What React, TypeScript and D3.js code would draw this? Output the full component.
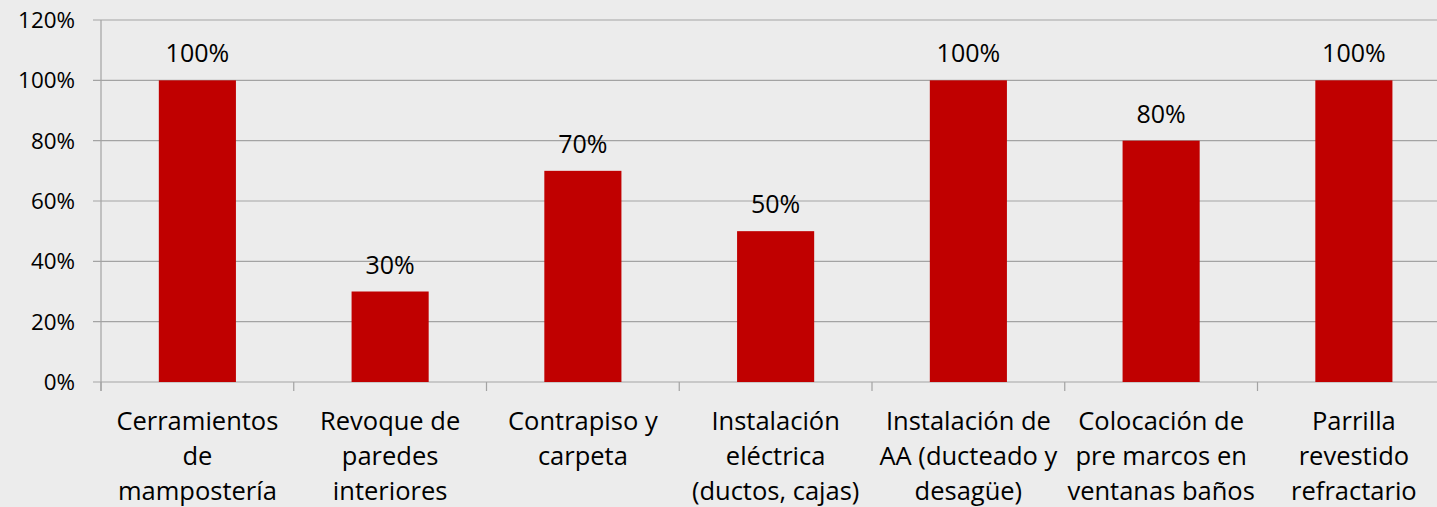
import * as d3 from "d3";

const categories: string[][] = [
  ["Cerramientos", "de", "mampostería"],
  ["Revoque de", "paredes", "interiores"],
  ["Contrapiso y", "carpeta"],
  ["Instalación", "eléctrica", "(ductos, cajas)"],
  ["Instalación de", "AA (ducteado y", "desagüe)"],
  ["Colocación de", "pre marcos en", "ventanas baños"],
  ["Parrilla", "revestido", "refractario"],
];
const values: number[] = [1, 0.3, 0.7, 0.5, 1, 0.8, 1];
const yTicks: number[] = [0, 0.2, 0.4, 0.6, 0.8, 1, 1.2];

const W = 1437;
const H = 507;
const left = 101;
const band = 192.75;
const top = 20;
const bottom = 382;
const font = "'Open Sans', sans-serif";
const grid = "#a3a3a3";

export default function App() {
  const keys = categories.map((_, i) => String(i));
  const x = d3
    .scaleBand<string>()
    .domain(keys)
    .range([left, left + band * keys.length])
    .paddingInner(0)
    .paddingOuter(0);
  const y = d3.scaleLinear().domain([0, 1.2]).range([bottom, top]);
  const pct = d3.format(".0%");
  const bw = x.bandwidth() * 0.4;

  return (
    <svg
      width={W}
      height={H}
      style={{ position: "absolute", left: 0, top: 0, display: "block" }}
      fontFamily={font}
    >
      <rect width={W} height={H} fill="#ececec" />
      {yTicks.map((t) => (
        <g key={t}>
          <line x1={left - 8} x2={W} y1={y(t)} y2={y(t)} stroke={grid} strokeWidth={1.2} />
          <text
            x={75}
            y={y(t)}
            dy="0.35em"
            textAnchor="end"
            fontSize={22.4}
            fill="#000"
          >
            {pct(t)}
          </text>
        </g>
      ))}
      <line x1={left} x2={left} y1={top} y2={bottom + 9} stroke={grid} strokeWidth={1.2} />
      {keys.map((k, i) => (
        <line
          key={"t" + k}
          x1={x(k)! + (i === 0 ? 0 : 0)}
          x2={x(k)!}
          y1={bottom}
          y2={bottom + 9}
          stroke={grid}
          strokeWidth={1.2}
        />
      ))}
      {keys.map((k, i) => {
        const cx = x(k)! + x.bandwidth() / 2;
        return (
          <g key={"b" + k}>
            <rect
              x={cx - bw / 2}
              y={y(values[i])}
              width={bw}
              height={y(0) - y(values[i])}
              fill="#c00000"
            />
            <text
              x={cx}
              y={y(values[i]) - 18}
              textAnchor="middle"
              fontSize={25}
              fill="#000"
            >
              {pct(values[i])}
            </text>
            {categories[i].map((line, j) => (
              <text
                key={j}
                x={cx}
                y={429.5 + j * 35}
                textAnchor="middle"
                fontSize={25.5}
                fill="#000"
              >
                {line}
              </text>
            ))}
          </g>
        );
      })}
    </svg>
  );
}
